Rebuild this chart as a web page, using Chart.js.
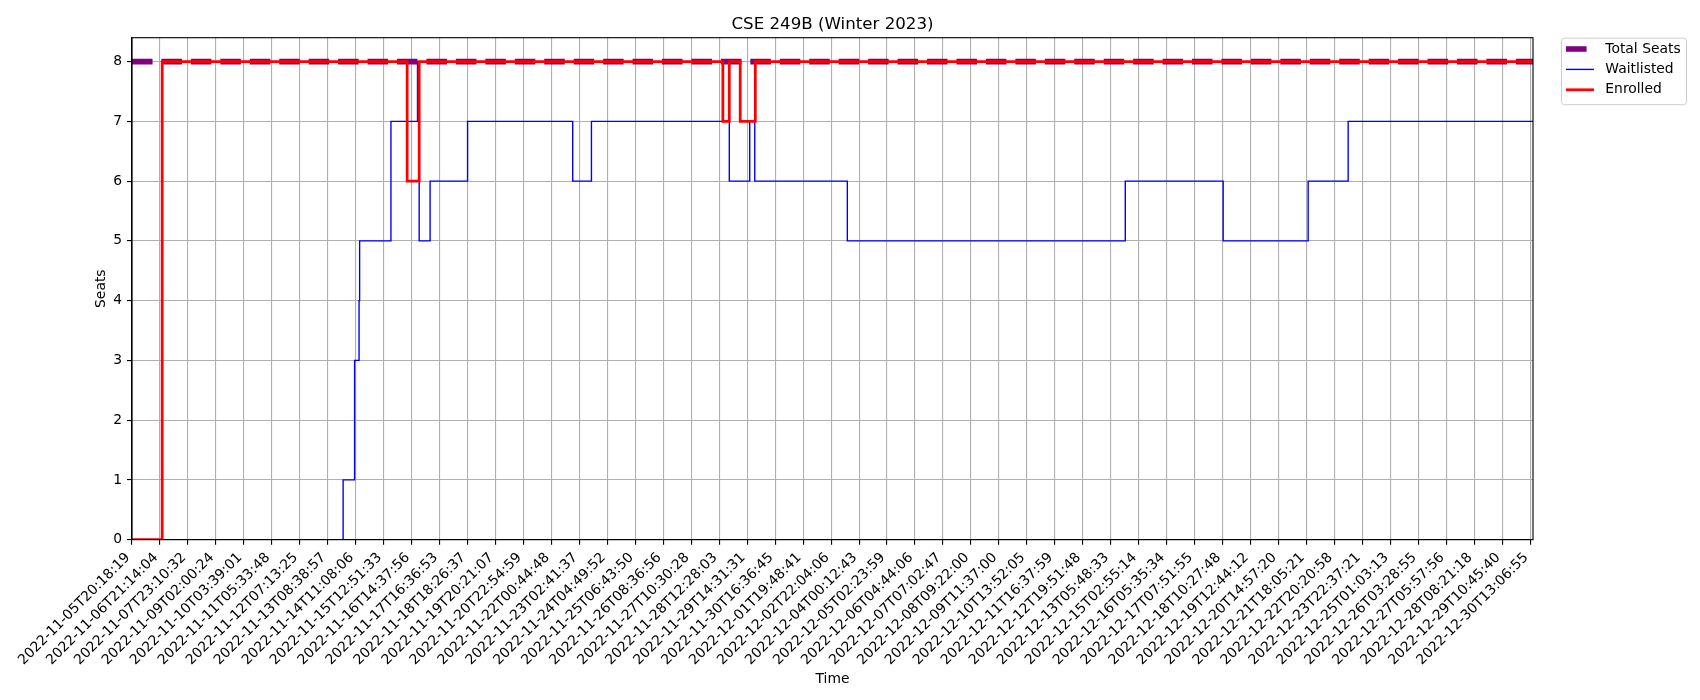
<!DOCTYPE html>
<html>
<head>
<meta charset="utf-8">
<title>CSE 249B (Winter 2023)</title>
<script src="https://cdn.jsdelivr.net/npm/chart.js@4.4.1/dist/chart.umd.min.js"></script>
<style>
  html, body { margin: 0; padding: 0; background: #fff; }
  #wrap { width: 1700px; height: 700px; position: relative; }
</style>
</head>
<body>
<div id="wrap"><canvas id="seatChart"></canvas></div>
<script>
// x positions are in "tick units": 0 = first labelled snapshot, 50 = last one
const tickLabels = [
  '2022-11-05T20:18:19', '2022-11-06T21:14:04', '2022-11-07T23:10:32', '2022-11-09T02:00:24',
  '2022-11-10T03:39:01', '2022-11-11T05:33:48', '2022-11-12T07:13:25', '2022-11-13T08:38:57',
  '2022-11-14T11:08:06', '2022-11-15T12:51:33', '2022-11-16T14:37:56', '2022-11-17T16:36:53',
  '2022-11-18T18:26:37', '2022-11-19T20:21:07', '2022-11-20T22:54:59', '2022-11-22T00:44:48',
  '2022-11-23T02:41:37', '2022-11-24T04:49:52', '2022-11-25T06:43:50', '2022-11-26T08:36:56',
  '2022-11-27T10:30:28', '2022-11-28T12:28:03', '2022-11-29T14:31:31', '2022-11-30T16:36:45',
  '2022-12-01T19:48:41', '2022-12-02T22:04:06', '2022-12-04T00:12:43', '2022-12-05T02:23:59',
  '2022-12-06T04:44:06', '2022-12-07T07:02:47', '2022-12-08T09:22:00', '2022-12-09T11:37:00',
  '2022-12-10T13:52:05', '2022-12-11T16:37:59', '2022-12-12T19:51:48', '2022-12-13T05:48:33',
  '2022-12-15T02:55:14', '2022-12-16T05:35:34', '2022-12-17T07:51:55', '2022-12-18T10:27:48',
  '2022-12-19T12:44:12', '2022-12-20T14:57:20', '2022-12-21T18:05:21', '2022-12-22T20:20:58',
  '2022-12-23T22:37:21', '2022-12-25T01:03:13', '2022-12-26T03:28:55', '2022-12-27T05:57:56',
  '2022-12-28T08:21:18', '2022-12-29T10:45:40', '2022-12-30T13:06:55'
];
const yTicks = [0, 1, 2, 3, 4, 5, 6, 7, 8];

// each pair = where a new value starts
const seatsX = [0, 50.1];
const seatsY = [8, 8];

const waitlistX = [0, 7.55, 7.96, 8.12, 8.14, 9.26, 10.21, 10.27, 10.66, 12.0, 15.76, 16.43,
                   21.36, 22.09, 22.27, 25.58, 35.52, 39.02, 42.06, 43.49, 50.1];
const waitlistY = [0, 1, 3, 4, 5, 7, 8, 5, 6, 7, 6, 7,
                   6, 7, 6, 5, 6, 5, 6, 7, 7];

const enrolledX = [0, 1.08, 9.84, 10.27, 21.13, 21.36, 21.75, 22.29, 50.1];
const enrolledY = [0, 8, 6, 8, 7, 8, 7, 8, 8];

const FONT = 'DejaVu Sans';
const PT = 100 / 72;

function toPoints(xs, ys) {
  return xs.map((x, i) => ({ x: x, y: ys[i] }));
}

// box round the plot like matplotlib spines
const axesFrame = {
  id: 'axesFrame',
  afterDatasetsDraw(chart) {
    const { ctx, chartArea: a } = chart;
    ctx.save();
    ctx.strokeStyle = '#000';
    ctx.lineWidth = 0.8 * PT;
    ctx.strokeRect(a.left, a.top, a.right - a.left, a.bottom - a.top);
    ctx.restore();
  }
};

// legend sitting outside the axes, top-left anchored at 1.02
const boxLegend = {
  id: 'boxLegend',
  afterDraw(chart) {
    const { ctx, chartArea: a } = chart;
    const left = a.left + 1.02 * (a.right - a.left);
    const top = a.top;
    ctx.save();
    ctx.fillStyle = 'rgba(255,255,255,0.8)';
    ctx.strokeStyle = '#cccccc';
    ctx.lineWidth = 1;
    ctx.beginPath();
    ctx.roundRect(left + 0.5, top + 0.5, 125, 66.5, 3);
    ctx.fill();
    ctx.stroke();
    ctx.font = (10 * PT) + 'px "' + FONT + '"';
    ctx.textBaseline = 'middle';
    chart.data.datasets.forEach((ds, i) => {
      const y = top + 11.3 + i * 20.4;
      ctx.strokeStyle = ds.borderColor;
      ctx.lineWidth = ds.borderWidth;
      ctx.setLineDash(ds.borderDash || []);
      ctx.beginPath();
      ctx.moveTo(left + 5, y);
      ctx.lineTo(left + 33, y);
      ctx.stroke();
      ctx.setLineDash([]);
      ctx.fillStyle = '#000';
      ctx.fillText(ds.label, left + 44.3, y);
    });
    ctx.restore();
  }
};

Chart.defaults.font.family = FONT;
Chart.defaults.font.size = 10 * PT;
Chart.defaults.color = '#000';

new Chart(document.getElementById('seatChart'), {
  type: 'line',
  data: {
    datasets: [
      {
        label: 'Total Seats',
        data: toPoints(seatsX, seatsY),
        borderColor: '#800080',
        borderWidth: 4 * PT,
        borderDash: [3.7 * 4 * PT, 1.6 * 4 * PT],
        stepped: true,
        order: 3
      },
      {
        label: 'Waitlisted',
        data: toPoints(waitlistX, waitlistY),
        borderColor: '#0000ff',
        borderWidth: 1 * PT,
        stepped: true,
        order: 2
      },
      {
        label: 'Enrolled',
        data: toPoints(enrolledX, enrolledY),
        borderColor: '#ff0000',
        borderWidth: 2 * PT,
        stepped: true,
        order: 1
      }
    ]
  },
  options: {
    responsive: true,
    maintainAspectRatio: false,
    animation: false,
    layout: { padding: { left: 83.5, right: 167, top: 0, bottom: 6.8 } },
    elements: { point: { radius: 0, hoverRadius: 0 }, line: { tension: 0 } },
    plugins: {
      legend: { display: false },
      tooltip: { enabled: false },
      title: {
        display: true,
        text: 'CSE 249B (Winter 2023)',
        fullSize: false,
        font: { size: 12 * PT, weight: 'normal' },
        color: '#000',
        padding: { top: 15, bottom: 2.7 }
      }
    },
    scales: {
      x: {
        type: 'linear',
        min: 0,
        max: 50.1,
        afterBuildTicks: (scale) => { scale.ticks = tickLabels.map((_, i) => ({ value: i })); },
        ticks: {
          autoSkip: false,
          minRotation: 45,
          maxRotation: 45,
          padding: 5,
          labelOffset: -4,
          color: '#000',
          callback: (value) => tickLabels[value]
        },
        grid: { color: '#b0b0b0', lineWidth: 0.8 * PT, tickLength: 5, tickColor: '#000', tickWidth: 0.8 * PT },
        border: { color: '#000', width: 0.8 * PT },
        title: { display: true, text: 'Time', color: '#000', padding: { top: -2, bottom: 5 } }
      },
      y: {
        type: 'linear',
        min: 0,
        max: 8.4,
        afterBuildTicks: (scale) => { scale.ticks = yTicks.map(v => ({ value: v })); },
        ticks: { padding: 5, color: '#000' },
        grid: { color: '#b0b0b0', lineWidth: 0.8 * PT, tickLength: 5, tickColor: '#000', tickWidth: 0.8 * PT },
        border: { color: '#000', width: 0.8 * PT },
        title: { display: true, text: 'Seats', color: '#000', padding: { top: 9.4, bottom: -1.4 } }
      }
    }
  },
  plugins: [axesFrame, boxLegend]
});
</script>
</body>
</html>
